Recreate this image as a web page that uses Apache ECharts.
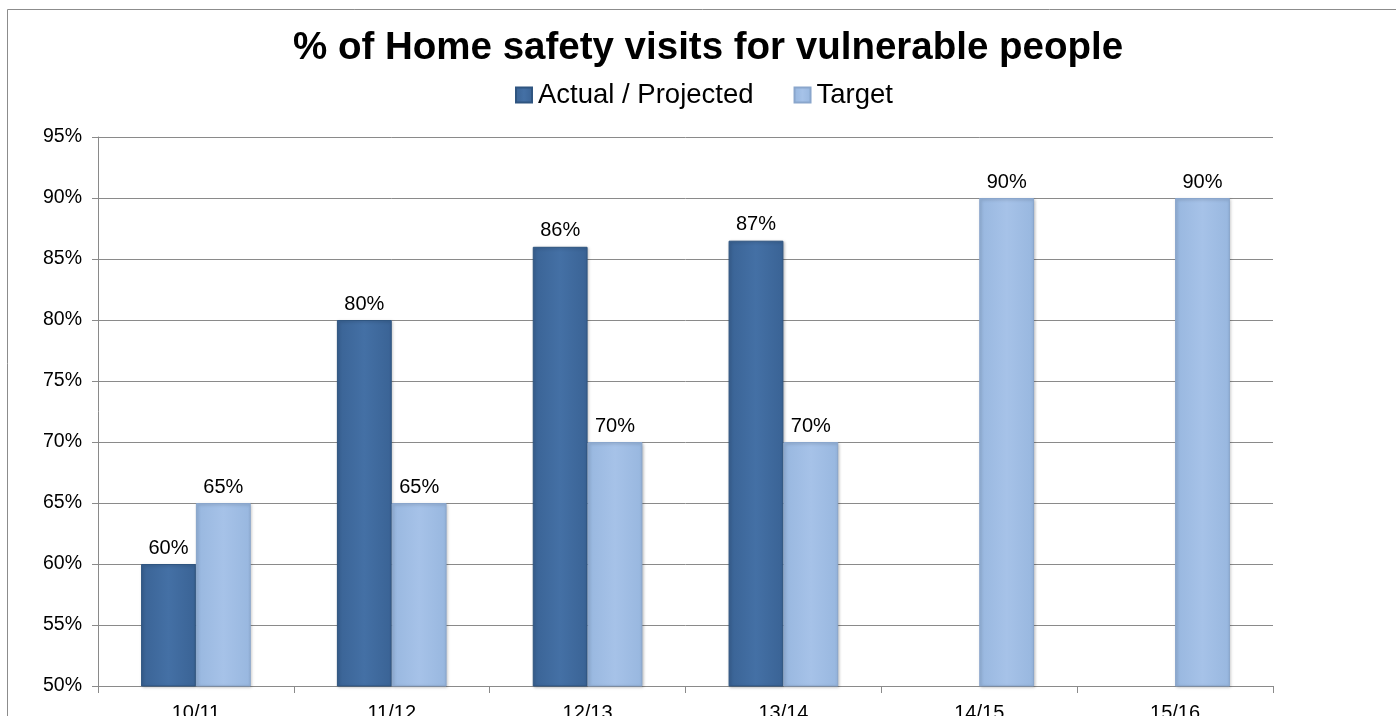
<!DOCTYPE html>
<html><head><meta charset="utf-8">
<script src="https://cdn.jsdelivr.net/npm/echarts@6/dist/echarts.min.js"></script>
<style>html,body{margin:0;padding:0;background:#fff;overflow:hidden}#c{width:1396px;height:716px}</style>
</head><body><div id="c"></div>
<script>
const categories = ['10/11','11/12','12/13','13/14','14/15','15/16'];
const actualValues = [60, 80, 86, 86.5, null, null];
const targetValues = [65, 65, 70, 70, 90, 90];
const seriesNames = ['Actual / Projected', 'Target'];
const titleText = '% of Home safety visits for vulnerable people';

const chart = echarts.init(document.getElementById('c'), null, {renderer:'canvas'});
const FONT = '"Liberation Sans", Arial, sans-serif';
const AXIS = '#8a8a8a';
function barStyle(c1, c2, border){
  return {
    color: new echarts.graphic.LinearGradient(0,0,1,0,[
      {offset:0,color:c1},{offset:0.5,color:c2},{offset:1,color:c1}]),
    borderColor: border, borderWidth: 1,
    shadowColor:'rgba(0,0,0,0.25)', shadowBlur:3, shadowOffsetX:1, shadowOffsetY:1
  };
}
chart.setOption({
  animation:false,
  title:{text:titleText,left:288,top:24,
    textStyle:{fontFamily:FONT,fontSize:38.5,fontWeight:'bold',color:'#000'}},
  legend:{data:seriesNames,top:81,left:515,padding:0,itemWidth:16,itemHeight:15,itemGap:40,
    textStyle:{fontFamily:FONT,fontSize:27.5,color:'#000',padding:[0,0,0,1]},icon:'rect'},
  graphic:[{type:'rect',shape:{x:7.5,y:9.5,width:1400,height:720},
    style:{fill:'none',stroke:'#8c8c8c',lineWidth:1},silent:true}],
  grid:{left:98,right:123,top:137,bottom:30,containLabel:false,outerBoundsMode:'none'},
  xAxis:{type:'category',data:categories,
    axisLine:{show:true,lineStyle:{color:AXIS}},
    axisTick:{show:true,length:7,lineStyle:{color:AXIS}},
    axisLabel:{fontFamily:FONT,fontSize:20,color:'#000',margin:17}},
  yAxis:{type:'value',min:50,max:95,interval:5,
    axisLine:{show:true,lineStyle:{color:AXIS}},
    axisTick:{show:true,length:6,lineStyle:{color:AXIS}},
    splitLine:{lineStyle:{color:AXIS}},
    axisLabel:{fontFamily:FONT,fontSize:19.5,color:'#000',margin:16,formatter:v=>v+'%'}},
  series:[
    {name:seriesNames[0],type:'bar',data:actualValues,barGap:'0%',barCategoryGap:'44%',
      itemStyle:barStyle('#3a6395','#4470a5','#2f5580'),
      label:{show:true,position:'top',distance:6,fontFamily:FONT,fontSize:20,color:'#000',
        formatter:p=>Math.round(p.value)+'%'}},
    {name:seriesNames[1],type:'bar',data:targetValues,
      itemStyle:barStyle('#98b7df','#a6c2e8','#8aa6cc'),
      label:{show:true,position:'top',distance:6,fontFamily:FONT,fontSize:20,color:'#000',
        formatter:p=>Math.round(p.value)+'%'}}
  ]
});
</script></body></html>
